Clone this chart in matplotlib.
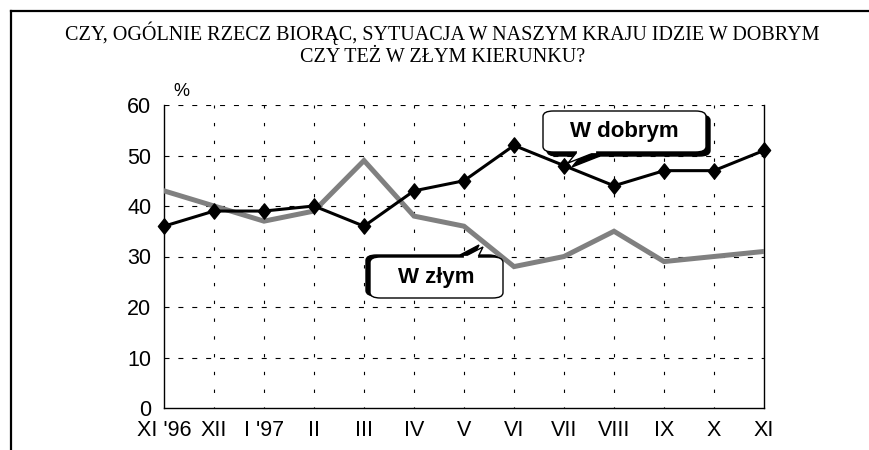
import numpy as np
import matplotlib.pyplot as plt
from matplotlib.patches import FancyBboxPatch, Polygon
from matplotlib.path import Path
from matplotlib.lines import Line2D

# month labels and survey results (%)
months = ["XI '96", "XII", "I '97", "II", "III", "IV", "V", "VI", "VII", "VIII", "IX", "X", "XI"]
w_dobrym = [36, 39, 39, 40, 36, 43, 45, 52, 48, 44, 47, 47, 51]
w_zlym = [43, 40, 37, 39, 49, 38, 36, 28, 30, 35, 29, 30, 31]
yticks = [0, 10, 20, 30, 40, 50, 60]

title = "CZY, OGÓLNIE RZECZ BIORĄC, SYTUACJA W NASZYM KRAJU IDZIE W DOBRYM\nCZY TEŻ W ZŁYM KIERUNKU?"

W, H = 869, 450
fig = plt.figure(figsize=(W / 100, H / 100), dpi=100)
ax = fig.add_axes([164 / W, 1 - 408 / H, 600 / W, 303 / H])

x = np.arange(len(months))
diamond = Path([(0, 1), (0.8, 0), (0, -1), (-0.8, 0), (0, 1)],
               [Path.MOVETO, Path.LINETO, Path.LINETO, Path.LINETO, Path.CLOSEPOLY])

ax.plot(x, w_zlym, color='#808080', lw=3.6, solid_joinstyle='miter', zorder=3)
ax.plot(x, w_dobrym, color='black', lw=2.2, marker=diamond, ms=11, zorder=4, clip_on=False)

ax.set_xlim(0, 12)
ax.set_ylim(0, 60)
ax.set_xticks(x)
ax.set_xticklabels(months, fontsize=15.5, family='Liberation Sans')
ax.set_yticks(yticks)
ax.set_yticklabels([str(v) for v in yticks], fontsize=15.5, family='Liberation Sans')
ax.tick_params(length=0)
ax.tick_params(axis='x', pad=9)
ax.tick_params(axis='y', pad=9)

# dashed grid
for v in yticks[1:]:
    ax.axhline(v, color='black', lw=0.8, ls=(0, (4.5, 8)), zorder=1)
for v in x[1:-1]:
    ax.axvline(v, color='black', lw=0.8, ls=(2, (3, 13)), zorder=1)

ax.spines['top'].set_visible(False)
for s in ['left', 'bottom', 'right']:
    ax.spines[s].set_linewidth(1.0)

ax.text(0.18, 61.0, '%', fontsize=13, family='Liberation Sans', va='bottom')

# callouts (pixel coords -> figure fraction)
def fx(px):
    return px / W

def fy(py):
    return 1 - py / H

def callout(x0, y0, x1, y1, tail, dx, dy, label):
    sh = FancyBboxPatch((fx(x0 + dx), fy(y1 + dy)), fx(x1 - x0), (y1 - y0) / H,
                        boxstyle='round,pad=0,rounding_size=0.012',
                        transform=fig.transFigure, fc='black', ec='black', zorder=10)
    fig.add_artist(sh)
    tsh = Polygon([(fx(px + dx), fy(py + dy)) for px, py in tail], closed=True,
                  transform=fig.transFigure, fc='black', ec='black', zorder=10)
    fig.add_artist(tsh)
    box = FancyBboxPatch((fx(x0), fy(y1)), fx(x1 - x0), (y1 - y0) / H,
                         boxstyle='round,pad=0,rounding_size=0.012',
                         transform=fig.transFigure, fc='white', ec='black', lw=1.0, zorder=11)
    fig.add_artist(box)
    tp = Polygon([(fx(px), fy(py)) for px, py in tail], closed=True,
                 transform=fig.transFigure, fc='white', ec='black', lw=1.0, zorder=11)
    fig.add_artist(tp)
    # hide box edge under tail base
    fig.add_artist(Line2D([fx(tail[0][0] + 1), fx(tail[-1][0] - 1)],
                          [fy(tail[0][1]), fy(tail[-1][1])],
                          transform=fig.transFigure, color='white', lw=1.6, zorder=12))
    fig.text(fx((x0 + x1) / 2), fy((y0 + y1) / 2), label, fontsize=16, fontweight='bold',
             family='Liberation Sans', ha='center', va='center', zorder=13)

callout(543, 111, 706, 152, [(577, 152), (568, 163), (596, 152)], 4, 4, 'W dobrym')
callout(370, 257, 503, 298, [(464, 257), (483, 247), (478, 257)], -4, -2, 'W złym')

# title and frame
fig.text(0.509, fy(44), title, fontsize=14.5, family='Liberation Serif',
         ha='center', va='center', linespacing=1.2)
fig.add_artist(Line2D([fx(11), fx(869)], [fy(11), fy(11)], transform=fig.transFigure,
                      color='black', lw=1.6))
fig.add_artist(Line2D([fx(11), fx(11)], [fy(11), 0], transform=fig.transFigure,
                      color='black', lw=1.6))

fig.savefig('out.png', dpi=100)
